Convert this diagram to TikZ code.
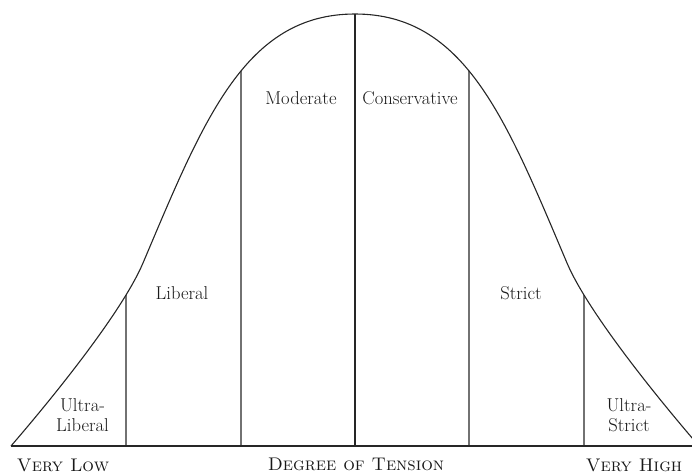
\documentclass[tikz,border=0pt]{standalone}
\usepackage{fontspec}
\usetikzlibrary{intersections}
\tikzset{
  ln/.style={line width=1.1pt, draw=black!85},
  lbl/.style={font=\fontsize{18.6}{20.5}\selectfont, inner sep=0pt, align=center, text=black!90},
  axlbl/.style={font=\fontsize{18.3}{20}\selectfont\scshape, inner sep=0pt, text=black!90}
}
\begin{document}
\begin{tikzpicture}[x=1pt,y=-1pt]
\useasboundingbox (0,0) rectangle (692,475);
\clip (0,0) rectangle (692,475);
% points
\coordinate (L0) at (11,446);
\coordinate (LM) at (143,263);
\coordinate (TOP) at (355,14);
\coordinate (RM) at (567,263);
\coordinate (R0) at (699,446);
% bell curve
\draw[ln, name path=curve] (L0) .. controls (55,395) and (122.6,311) .. (LM)
  .. controls (204,119) and (245,14) .. (TOP)
  .. controls (465,14) and (506,119) .. (RM)
  .. controls (587.4,311) and (655,395) .. (R0);
% baseline
\coordinate (BL) at (11,446);
\coordinate (BR) at (692,446);
\draw[ln] (BL) -- (BR);
% vertical dividers
\foreach \i/\x in {1/126,2/241,4/469,5/584}{
  \coordinate (b\i) at (\x,446);
  \coordinate (u\i) at (\x,0);
  \path[name path=v\i] (b\i) -- (u\i);
  \draw[ln, name intersections={of=curve and v\i, by={c\i}}] (b\i) -- (c\i);
}
\coordinate (b3) at (355,446);
\draw[ln] (b3) -- (TOP);
% labels
\node[lbl] (ulib) at (82.5,415) {Ultra-\\Liberal};
\node[lbl] (lib) at (182,293) {Liberal};
\node[lbl] (mod) at (301,98) {Moderate};
\node[lbl] (con) at (410,98) {Conservative};
\node[lbl] (str) at (521,293) {Strict};
\node[lbl] (ustr) at (629,415) {Ultra-\\Strict};
\node[axlbl] (vlow) at (63,465) {Very Low};
\node[axlbl] (deg) at (356,464) {Degree of Tension};
\node[axlbl] (vhigh) at (634,465) {Very High};
\end{tikzpicture}
\end{document}
